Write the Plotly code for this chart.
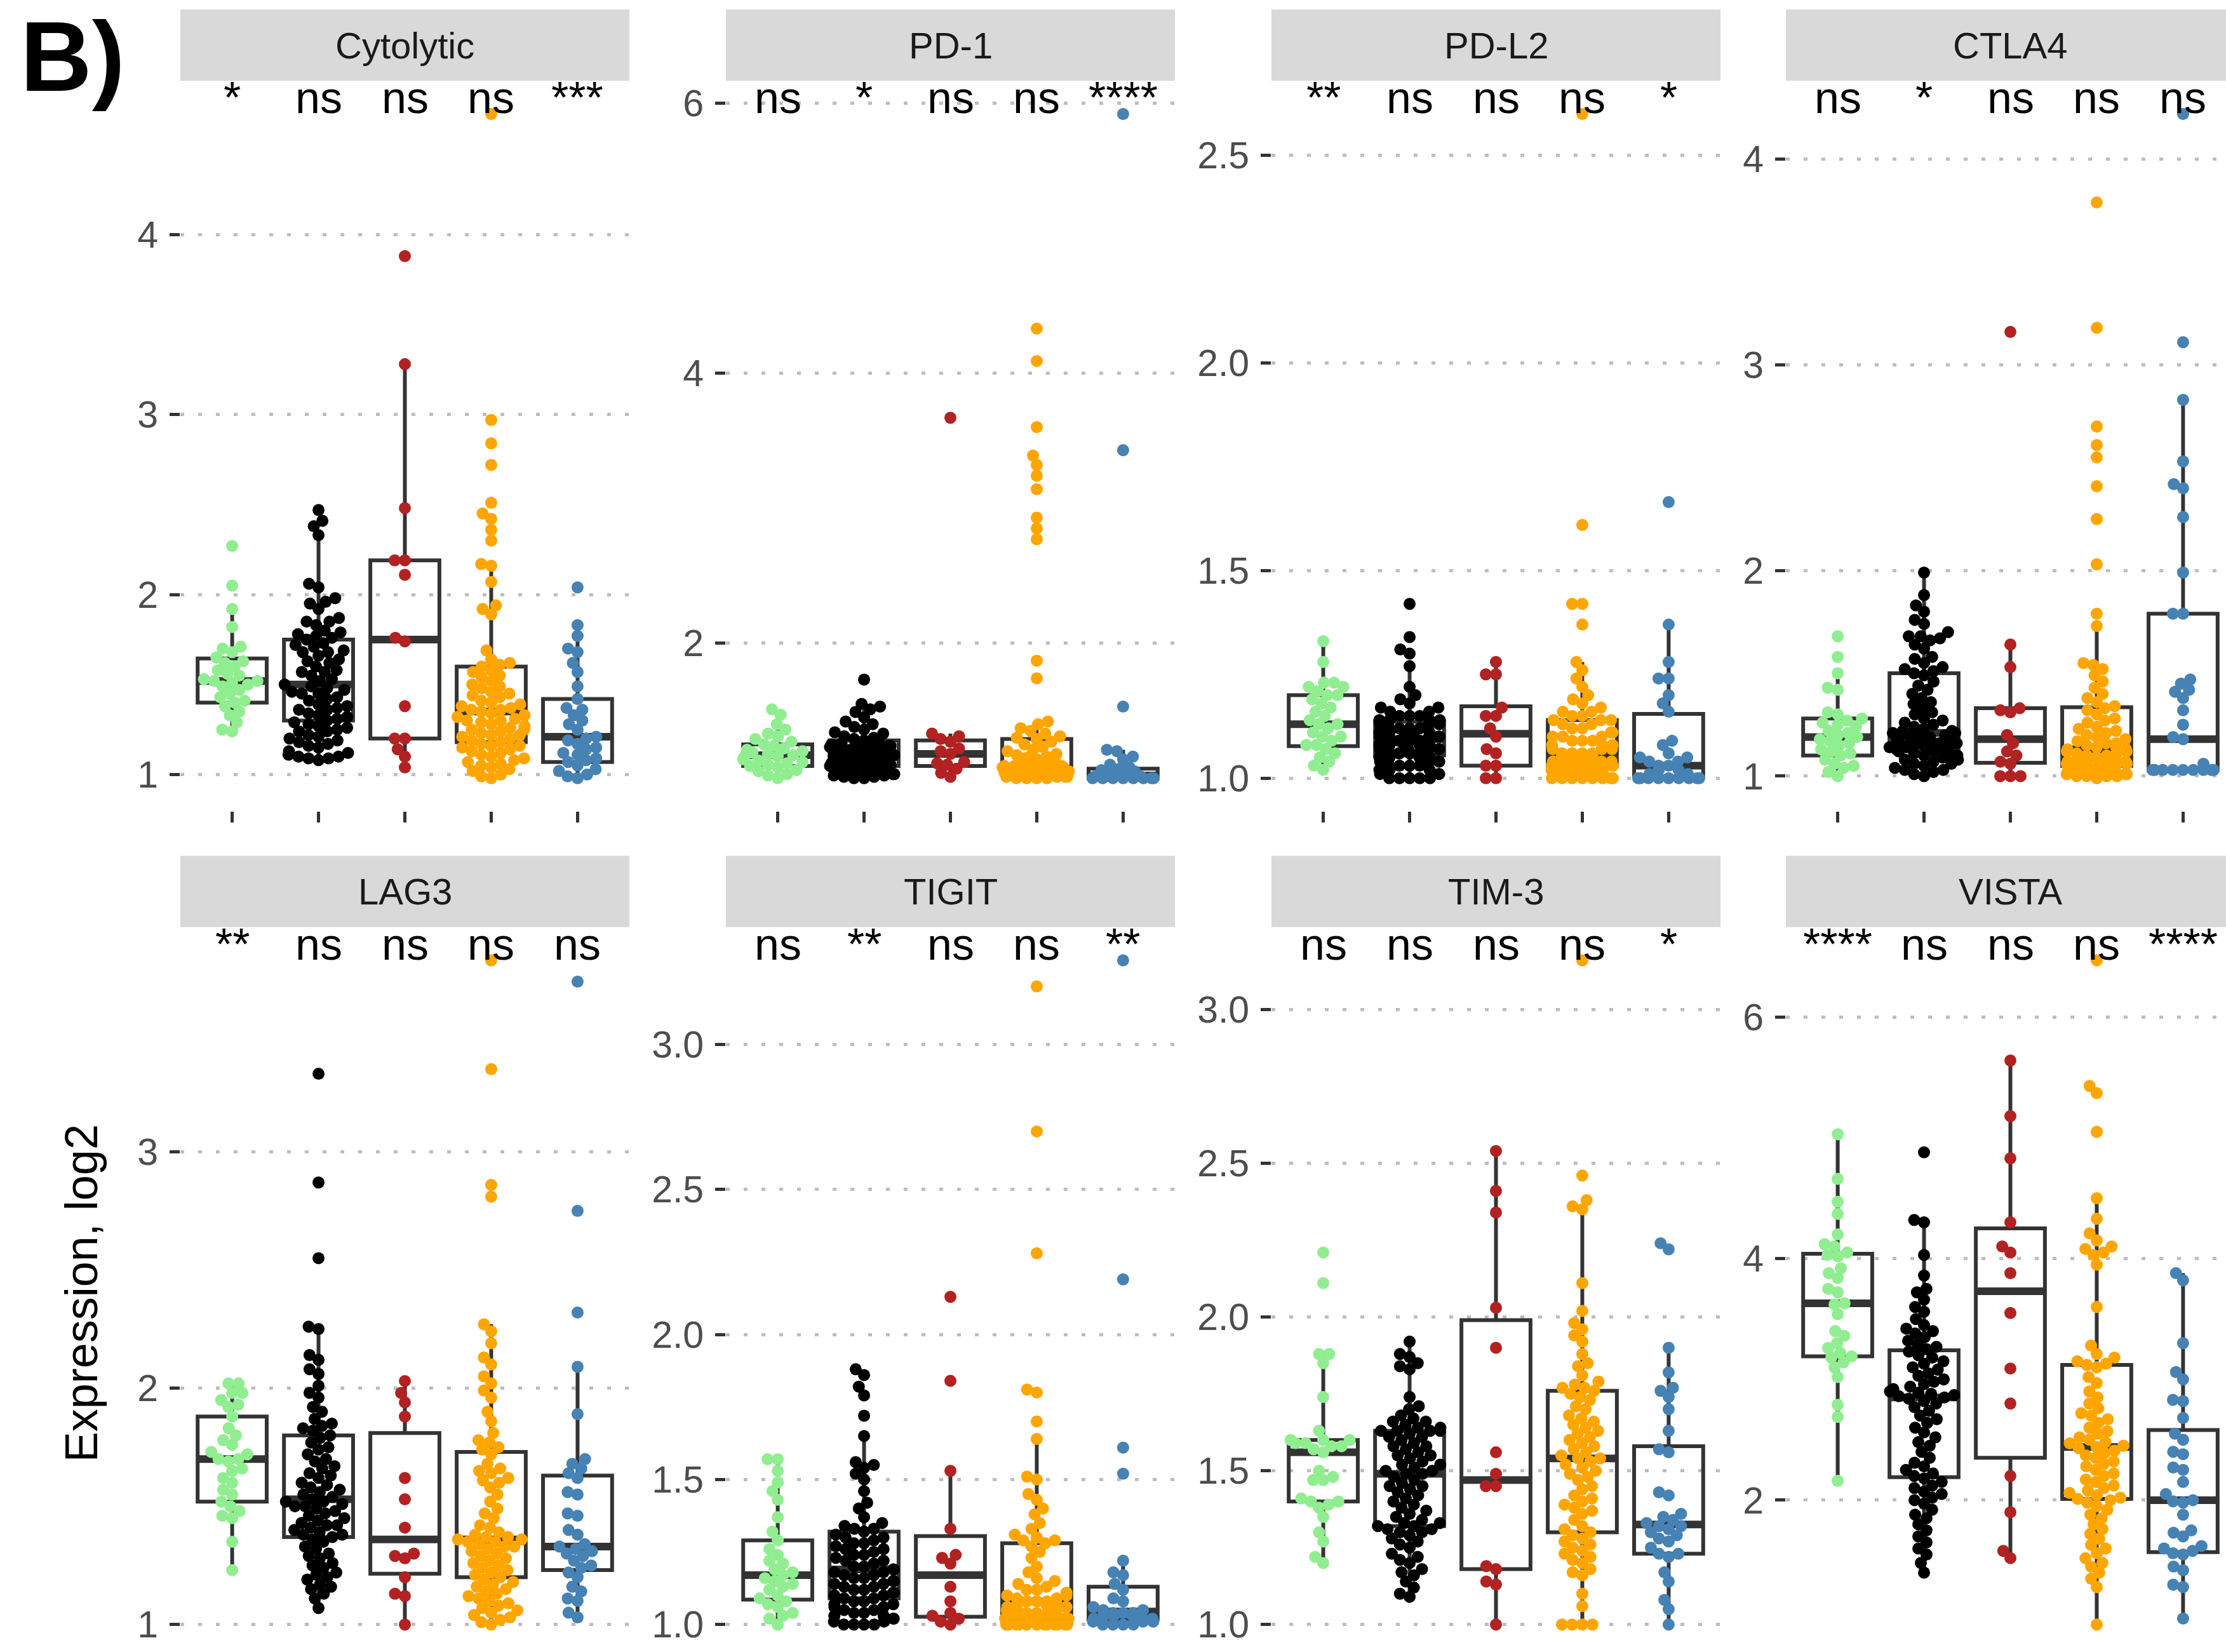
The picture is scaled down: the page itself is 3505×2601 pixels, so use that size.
import math
import numpy as np
import plotly.graph_objects as go

# ---------------- categories / labels ----------------
PANELS = ["Cytolytic", "PD-1", "PD-L2", "CTLA4", "LAG3", "TIGIT", "TIM-3", "VISTA"]
GROUP_POS = [1, 2, 3, 4, 5]
GROUP_COLORS = ["#90EE90", "#000000", "#B22222", "#FFA500", "#4682B4"]

SIG_CYT = ["*", "ns", "ns", "ns", "***"]
SIG_PD1 = ["ns", "*", "ns", "ns", "****"]
SIG_PDL2 = ["**", "ns", "ns", "ns", "*"]
SIG_CTLA4 = ["ns", "*", "ns", "ns", "ns"]
SIG_LAG3 = ["**", "ns", "ns", "ns", "ns"]
SIG_TIGIT = ["ns", "**", "ns", "ns", "**"]
SIG_TIM3 = ["ns", "ns", "ns", "ns", "*"]
SIG_VISTA = ["****", "ns", "ns", "ns", "****"]

YT_CYT = [1, 2, 3, 4]; YL_CYT = ["1", "2", "3", "4"]
YT_PD1 = [2, 4, 6]; YL_PD1 = ["2", "4", "6"]
YT_PDL2 = [1.0, 1.5, 2.0, 2.5]; YL_PDL2 = ["1.0", "1.5", "2.0", "2.5"]
YT_CTLA4 = [1, 2, 3, 4]; YL_CTLA4 = ["1", "2", "3", "4"]
YT_LAG3 = [1, 2, 3]; YL_LAG3 = ["1", "2", "3"]
YT_TIGIT = [1.0, 1.5, 2.0, 2.5, 3.0]; YL_TIGIT = ["1.0", "1.5", "2.0", "2.5", "3.0"]
YT_TIM3 = [1.0, 1.5, 2.0, 2.5, 3.0]; YL_TIM3 = ["1.0", "1.5", "2.0", "2.5", "3.0"]
YT_VISTA = [2, 4, 6]; YL_VISTA = ["2", "4", "6"]

# ---------------- point values ----------------
CYT_G = [2.27, 2.05, 1.92, 1.82, 1.71, 1.70, 1.68, 1.65, 1.63, 1.62, 1.60, 1.58, 1.56, 1.55, 1.53, 1.52,
         1.52, 1.51, 1.50, 1.49, 1.47, 1.45, 1.43, 1.41, 1.40, 1.38, 1.35, 1.33, 1.29, 1.25, 1.24]
CYT_K = [2.47, 2.41, 2.38, 2.33, 2.06, 2.04, 1.98, 1.96, 1.95, 1.92, 1.87, 1.85, 1.85, 1.83, 1.80, 1.79,
         1.78, 1.77, 1.76, 1.75, 1.73, 1.72, 1.71, 1.69, 1.68, 1.68, 1.66, 1.64, 1.63, 1.62, 1.60, 1.58,
         1.57, 1.57, 1.55, 1.53, 1.52, 1.50, 1.49, 1.48, 1.47, 1.46, 1.45, 1.45, 1.43, 1.42, 1.41, 1.39,
         1.38, 1.37, 1.36, 1.36, 1.34, 1.33, 1.32, 1.31, 1.30, 1.29, 1.28, 1.27, 1.26, 1.25, 1.24, 1.24,
         1.22, 1.21, 1.20, 1.19, 1.18, 1.17, 1.16, 1.15, 1.13, 1.12, 1.11, 1.10, 1.10, 1.09, 1.09, 1.08]
CYT_R = [3.88, 3.28, 2.48, 2.19, 2.19, 2.11, 1.76, 1.74, 1.38, 1.20, 1.20, 1.14, 1.10, 1.04]
CYT_O = [4.67, 2.97, 2.84, 2.72, 2.51, 2.45, 2.42, 2.36, 2.30, 2.17, 2.16, 2.07, 1.94, 1.92, 1.89, 1.69,
         1.64, 1.62, 1.61, 1.60, 1.58, 1.57, 1.55, 1.54, 1.52, 1.50, 1.49, 1.48, 1.46, 1.45, 1.44, 1.43,
         1.41, 1.40, 1.39, 1.38, 1.37, 1.36, 1.36, 1.35, 1.34, 1.33, 1.32, 1.31, 1.30, 1.30, 1.29, 1.28,
         1.27, 1.26, 1.25, 1.25, 1.24, 1.23, 1.22, 1.22, 1.21, 1.20, 1.19, 1.18, 1.17, 1.16, 1.16, 1.15,
         1.14, 1.13, 1.12, 1.11, 1.10, 1.09, 1.08, 1.07, 1.06, 1.05, 1.04, 1.03, 1.02, 1.00, 0.99, 0.98]
CYT_B = [2.04, 1.83, 1.77, 1.70, 1.68, 1.62, 1.57, 1.49, 1.42, 1.37, 1.36, 1.33, 1.30, 1.28, 1.25, 1.21,
         1.20, 1.19, 1.17, 1.15, 1.14, 1.12, 1.11, 1.09, 1.08, 1.07, 1.05, 1.03, 1.02, 1.00, 0.99, 0.98]

PD1_G = [1.51, 1.47, 1.40, 1.36, 1.33, 1.31, 1.29, 1.27, 1.25, 1.24, 1.22, 1.21, 1.20, 1.19, 1.18, 1.17,
         1.16, 1.15, 1.14, 1.13, 1.12, 1.11, 1.10, 1.09, 1.08, 1.06, 1.05, 1.03, 1.02, 1.00]
PD1_K = [1.73, 1.55, 1.53, 1.51, 1.49, 1.45, 1.42, 1.40, 1.38, 1.36, 1.34, 1.33, 1.31, 1.30, 1.29, 1.28,
         1.27, 1.26, 1.26, 1.25, 1.25, 1.24, 1.24, 1.23, 1.23, 1.22, 1.22, 1.22, 1.21, 1.21, 1.20, 1.20,
         1.20, 1.19, 1.19, 1.19, 1.18, 1.18, 1.18, 1.18, 1.17, 1.17, 1.16, 1.16, 1.15, 1.15, 1.15, 1.14,
         1.14, 1.13, 1.13, 1.12, 1.12, 1.12, 1.11, 1.11, 1.10, 1.10, 1.10, 1.09, 1.09, 1.08, 1.08, 1.08,
         1.07, 1.07, 1.06, 1.06, 1.05, 1.05, 1.04, 1.04, 1.03, 1.03, 1.02, 1.02, 1.01, 1.01, 1.00, 1.00]
PD1_R = [3.67, 1.33, 1.31, 1.29, 1.27, 1.22, 1.20, 1.18, 1.12, 1.11, 1.10, 1.07, 1.04, 1.01]
PD1_O = [4.33, 4.09, 3.60, 3.39, 3.32, 3.24, 3.14, 2.93, 2.85, 2.77, 1.87, 1.74, 1.42, 1.40, 1.37, 1.35,
         1.33, 1.31, 1.30, 1.29, 1.27, 1.25, 1.23, 1.21, 1.20, 1.18, 1.17, 1.16, 1.15, 1.14, 1.13, 1.13,
         1.12, 1.12, 1.11, 1.11, 1.10, 1.10, 1.09, 1.09, 1.09, 1.08, 1.08, 1.08, 1.07, 1.07, 1.07, 1.07,
         1.06, 1.06, 1.06, 1.06, 1.06, 1.05, 1.05, 1.05, 1.05, 1.05, 1.05, 1.05, 1.04, 1.04, 1.04, 1.04,
         1.03, 1.03, 1.03, 1.03, 1.02, 1.02, 1.02, 1.02, 1.01, 1.01, 1.01, 1.01, 1.00, 1.00, 1.00, 1.00]
PD1_B = [5.92, 3.43, 1.53, 1.21, 1.20, 1.16, 1.14, 1.10, 1.08, 1.07, 1.06, 1.05, 1.04, 1.03, 1.03, 1.02,
         1.02, 1.01, 1.01, 1.01, 1.00, 1.00, 1.00, 1.00, 1.00, 1.00, 1.00, 1.00]

PDL2_G = [1.33, 1.28, 1.23, 1.23, 1.22, 1.22, 1.21, 1.20, 1.20, 1.19, 1.18, 1.17, 1.16, 1.15, 1.14, 1.13,
          1.13, 1.12, 1.11, 1.10, 1.10, 1.09, 1.08, 1.08, 1.07, 1.06, 1.05, 1.04, 1.03, 1.02]
PDL2_K = [1.42, 1.34, 1.31, 1.30, 1.27, 1.22, 1.20, 1.19, 1.18, 1.17, 1.17, 1.16, 1.16, 1.15, 1.15, 1.15,
          1.14, 1.14, 1.14, 1.14, 1.13, 1.13, 1.13, 1.12, 1.12, 1.12, 1.12, 1.11, 1.11, 1.11, 1.11, 1.10,
          1.10, 1.10, 1.10, 1.10, 1.09, 1.09, 1.09, 1.09, 1.09, 1.08, 1.08, 1.08, 1.08, 1.08, 1.07, 1.07,
          1.07, 1.07, 1.07, 1.06, 1.06, 1.06, 1.06, 1.06, 1.06, 1.05, 1.05, 1.05, 1.05, 1.04, 1.04, 1.04,
          1.04, 1.03, 1.03, 1.03, 1.03, 1.02, 1.02, 1.02, 1.01, 1.01, 1.01, 1.00, 1.00, 1.00, 1.00, 1.00]
PDL2_R = [1.28, 1.25, 1.25, 1.17, 1.15, 1.15, 1.12, 1.10, 1.07, 1.06, 1.03, 1.03, 1.00, 1.00]
PDL2_O = [2.60, 1.61, 1.42, 1.42, 1.37, 1.28, 1.26, 1.24, 1.22, 1.20, 1.19, 1.18, 1.17, 1.16, 1.16, 1.15,
          1.15, 1.14, 1.14, 1.14, 1.13, 1.13, 1.12, 1.12, 1.11, 1.11, 1.10, 1.10, 1.10, 1.09, 1.09, 1.09,
          1.08, 1.08, 1.08, 1.07, 1.07, 1.07, 1.06, 1.06, 1.06, 1.06, 1.05, 1.05, 1.05, 1.05, 1.05, 1.04,
          1.04, 1.04, 1.04, 1.04, 1.04, 1.03, 1.03, 1.03, 1.03, 1.03, 1.03, 1.03, 1.02, 1.02, 1.02, 1.02,
          1.02, 1.02, 1.01, 1.01, 1.01, 1.01, 1.01, 1.01, 1.00, 1.00, 1.00, 1.00, 1.00, 1.00, 1.00, 1.00]
PDL2_B = [1.665, 1.37, 1.28, 1.24, 1.24, 1.20, 1.18, 1.16, 1.09, 1.08, 1.06, 1.05, 1.05, 1.04, 1.04, 1.03,
          1.03, 1.02, 1.02, 1.01, 1.01, 1.00, 1.00, 1.00, 1.00, 1.00, 1.00, 1.00, 1.00, 1.00]

CTLA4_G = [1.68, 1.58, 1.50, 1.43, 1.42, 1.31, 1.30, 1.28, 1.27, 1.26, 1.25, 1.24, 1.22, 1.21, 1.20, 1.19,
           1.18, 1.17, 1.16, 1.15, 1.13, 1.12, 1.11, 1.10, 1.08, 1.06, 1.05, 1.04, 1.02, 1.00]
CTLA4_K = [1.99, 1.88, 1.83, 1.80, 1.76, 1.74, 1.70, 1.68, 1.68, 1.67, 1.66, 1.64, 1.62, 1.58, 1.57, 1.55,
           1.53, 1.52, 1.51, 1.50, 1.49, 1.46, 1.44, 1.42, 1.40, 1.38, 1.36, 1.35, 1.33, 1.31, 1.30, 1.28,
           1.27, 1.26, 1.25, 1.24, 1.23, 1.22, 1.22, 1.21, 1.21, 1.20, 1.20, 1.19, 1.19, 1.18, 1.18, 1.18,
           1.17, 1.17, 1.16, 1.16, 1.16, 1.15, 1.15, 1.15, 1.14, 1.14, 1.14, 1.13, 1.13, 1.12, 1.12, 1.11,
           1.11, 1.10, 1.10, 1.09, 1.08, 1.08, 1.07, 1.06, 1.06, 1.05, 1.04, 1.03, 1.03, 1.02, 1.01, 1.00]
CTLA4_R = [3.16, 1.64, 1.53, 1.33, 1.32, 1.31, 1.20, 1.16, 1.12, 1.10, 1.07, 1.06, 1.00, 1.00, 1.00]
CTLA4_O = [3.79, 3.18, 2.70, 2.61, 2.55, 2.41, 2.25, 2.03, 1.79, 1.73, 1.55, 1.54, 1.52, 1.49, 1.46, 1.43,
           1.40, 1.38, 1.36, 1.34, 1.33, 1.32, 1.30, 1.28, 1.27, 1.26, 1.24, 1.23, 1.22, 1.21, 1.20, 1.19,
           1.18, 1.17, 1.16, 1.16, 1.15, 1.14, 1.14, 1.13, 1.13, 1.12, 1.12, 1.11, 1.11, 1.10, 1.10, 1.09,
           1.09, 1.08, 1.08, 1.08, 1.07, 1.07, 1.07, 1.06, 1.06, 1.06, 1.05, 1.05, 1.05, 1.04, 1.04, 1.04,
           1.04, 1.03, 1.03, 1.03, 1.02, 1.02, 1.02, 1.02, 1.01, 1.01, 1.01, 1.00, 1.00, 1.00, 1.00, 0.99]
CTLA4_B = [4.22, 3.11, 2.83, 2.53, 2.42, 2.40, 2.26, 1.99, 1.79, 1.79, 1.47, 1.45, 1.42, 1.41, 1.38, 1.32,
           1.25, 1.19, 1.18, 1.06, 1.03, 1.03, 1.03, 1.03, 1.03, 1.03, 1.03, 1.03, 1.03]

LAG3_G = [2.02, 2.02, 1.98, 1.98, 1.95, 1.93, 1.92, 1.88, 1.83, 1.80, 1.78, 1.76, 1.73, 1.72, 1.70, 1.70,
          1.69, 1.66, 1.65, 1.62, 1.60, 1.57, 1.55, 1.52, 1.50, 1.48, 1.46, 1.45, 1.35, 1.23]
LAG3_K = [3.33, 2.87, 2.55, 2.26, 2.25, 2.14, 2.12, 2.08, 2.06, 2.01, 1.98, 1.96, 1.92, 1.90, 1.87, 1.85,
          1.84, 1.83, 1.82, 1.80, 1.79, 1.77, 1.75, 1.74, 1.72, 1.70, 1.69, 1.67, 1.66, 1.64, 1.63, 1.62,
          1.60, 1.59, 1.58, 1.57, 1.56, 1.55, 1.54, 1.53, 1.52, 1.52, 1.51, 1.50, 1.50, 1.49, 1.48, 1.47,
          1.46, 1.45, 1.44, 1.43, 1.42, 1.42, 1.41, 1.40, 1.39, 1.38, 1.38, 1.37, 1.36, 1.35, 1.33, 1.32,
          1.30, 1.29, 1.28, 1.26, 1.25, 1.24, 1.22, 1.21, 1.20, 1.19, 1.17, 1.16, 1.15, 1.13, 1.11, 1.07]
LAG3_R = [2.03, 1.98, 1.94, 1.88, 1.62, 1.53, 1.41, 1.30, 1.29, 1.28, 1.20, 1.13, 1.12, 1.00]
LAG3_O = [3.81, 3.35, 2.86, 2.81, 2.27, 2.24, 2.19, 2.13, 2.10, 2.05, 2.02, 1.99, 1.96, 1.90, 1.86, 1.81,
          1.78, 1.77, 1.75, 1.74, 1.72, 1.68, 1.66, 1.65, 1.64, 1.62, 1.61, 1.60, 1.58, 1.55, 1.52, 1.49,
          1.47, 1.45, 1.42, 1.41, 1.39, 1.38, 1.37, 1.37, 1.36, 1.36, 1.35, 1.35, 1.34, 1.33, 1.33, 1.32,
          1.31, 1.30, 1.29, 1.28, 1.27, 1.26, 1.25, 1.24, 1.23, 1.22, 1.21, 1.20, 1.19, 1.18, 1.17, 1.16,
          1.15, 1.14, 1.13, 1.12, 1.11, 1.10, 1.09, 1.08, 1.07, 1.06, 1.05, 1.04, 1.03, 1.02, 1.01, 1.00]
LAG3_B = [3.72, 2.75, 2.32, 2.09, 1.89, 1.70, 1.68, 1.66, 1.64, 1.62, 1.56, 1.55, 1.47, 1.46, 1.40, 1.38,
          1.34, 1.33, 1.32, 1.31, 1.30, 1.29, 1.27, 1.25, 1.24, 1.22, 1.20, 1.16, 1.14, 1.11, 1.10, 1.05, 1.03]

TIGIT_G = [1.57, 1.57, 1.53, 1.49, 1.46, 1.43, 1.37, 1.32, 1.29, 1.26, 1.24, 1.22, 1.21, 1.19, 1.18, 1.17,
           1.16, 1.15, 1.14, 1.13, 1.12, 1.10, 1.09, 1.08, 1.07, 1.06, 1.04, 1.03, 1.02, 1.00]
TIGIT_K = [1.88, 1.86, 1.82, 1.79, 1.72, 1.65, 1.56, 1.55, 1.54, 1.52, 1.50, 1.46, 1.42, 1.40, 1.37, 1.35,
           1.34, 1.33, 1.33, 1.32, 1.31, 1.30, 1.30, 1.29, 1.28, 1.28, 1.27, 1.26, 1.26, 1.25, 1.24, 1.24,
           1.23, 1.22, 1.22, 1.21, 1.20, 1.20, 1.19, 1.19, 1.18, 1.18, 1.17, 1.17, 1.16, 1.16, 1.15, 1.15,
           1.14, 1.14, 1.13, 1.13, 1.12, 1.12, 1.11, 1.11, 1.10, 1.10, 1.09, 1.09, 1.08, 1.08, 1.07, 1.07,
           1.06, 1.06, 1.05, 1.05, 1.04, 1.04, 1.03, 1.03, 1.02, 1.02, 1.01, 1.01, 1.00, 1.00, 1.00, 1.00]
TIGIT_R = [2.13, 1.84, 1.53, 1.33, 1.24, 1.23, 1.21, 1.13, 1.08, 1.04, 1.03, 1.02, 1.01, 1.00]
TIGIT_O = [3.20, 2.70, 2.28, 1.81, 1.80, 1.70, 1.64, 1.51, 1.50, 1.45, 1.43, 1.40, 1.38, 1.35, 1.33, 1.31,
           1.30, 1.29, 1.29, 1.28, 1.27, 1.25, 1.23, 1.20, 1.18, 1.16, 1.15, 1.14, 1.13, 1.12, 1.12, 1.11,
           1.10, 1.10, 1.09, 1.09, 1.08, 1.08, 1.08, 1.08, 1.07, 1.07, 1.07, 1.06, 1.06, 1.06, 1.05, 1.05,
           1.05, 1.04, 1.04, 1.04, 1.03, 1.03, 1.03, 1.03, 1.02, 1.02, 1.02, 1.02, 1.01, 1.01, 1.01, 1.01,
           1.01, 1.01, 1.00, 1.00, 1.00, 1.00, 1.00, 1.00, 1.00, 1.00, 1.00, 1.00, 1.00, 1.00]
TIGIT_B = [3.29, 2.19, 1.61, 1.52, 1.22, 1.18, 1.17, 1.14, 1.12, 1.09, 1.08, 1.06, 1.05, 1.05, 1.04, 1.04,
           1.04, 1.03, 1.03, 1.03, 1.02, 1.02, 1.02, 1.01, 1.01, 1.01, 1.00, 1.00, 1.00, 1.00]

TIM3_G = [2.21, 2.11, 1.88, 1.88, 1.85, 1.74, 1.63, 1.60, 1.60, 1.60, 1.59, 1.59, 1.58, 1.58, 1.57, 1.56,
          1.50, 1.48, 1.47, 1.47, 1.41, 1.40, 1.40, 1.39, 1.38, 1.35, 1.30, 1.27, 1.22, 1.20]
TIM3_K = [1.92, 1.88, 1.87, 1.85, 1.84, 1.83, 1.74, 1.71, 1.70, 1.68, 1.67, 1.66, 1.66, 1.65, 1.64, 1.64,
          1.63, 1.63, 1.63, 1.63, 1.62, 1.61, 1.61, 1.60, 1.59, 1.58, 1.58, 1.57, 1.56, 1.55, 1.55, 1.54,
          1.53, 1.52, 1.52, 1.51, 1.50, 1.50, 1.49, 1.49, 1.48, 1.47, 1.46, 1.45, 1.45, 1.44, 1.43, 1.42,
          1.41, 1.40, 1.39, 1.38, 1.37, 1.36, 1.35, 1.34, 1.33, 1.33, 1.32, 1.32, 1.31, 1.31, 1.30, 1.30,
          1.29, 1.28, 1.27, 1.26, 1.25, 1.23, 1.22, 1.21, 1.20, 1.18, 1.17, 1.16, 1.14, 1.12, 1.10, 1.09]
TIM3_R = [2.54, 2.41, 2.34, 2.03, 1.90, 1.56, 1.49, 1.45, 1.45, 1.19, 1.18, 1.14, 1.13, 1.00]
TIM3_O = [3.16, 2.46, 2.38, 2.36, 2.35, 2.11, 2.02, 1.98, 1.96, 1.94, 1.92, 1.88, 1.85, 1.84, 1.81, 1.79,
          1.78, 1.77, 1.77, 1.76, 1.75, 1.74, 1.73, 1.71, 1.70, 1.68, 1.67, 1.66, 1.65, 1.64, 1.63, 1.62,
          1.61, 1.60, 1.59, 1.58, 1.57, 1.56, 1.55, 1.54, 1.54, 1.53, 1.52, 1.51, 1.50, 1.49, 1.48, 1.47,
          1.45, 1.44, 1.42, 1.41, 1.40, 1.39, 1.38, 1.37, 1.36, 1.34, 1.32, 1.31, 1.30, 1.29, 1.28, 1.27,
          1.26, 1.25, 1.24, 1.23, 1.22, 1.21, 1.20, 1.18, 1.17, 1.16, 1.10, 1.06, 1.00, 1.00, 1.00, 1.00]
TIM3_B = [2.24, 2.22, 1.90, 1.82, 1.77, 1.76, 1.74, 1.70, 1.63, 1.57, 1.56, 1.43, 1.42, 1.36, 1.35, 1.34,
          1.33, 1.32, 1.32, 1.31, 1.30, 1.29, 1.28, 1.27, 1.25, 1.23, 1.23, 1.22, 1.17, 1.14, 1.08, 1.05, 1.00]

VISTA_G = [5.03, 4.66, 4.47, 4.37, 4.20, 4.12, 4.10, 4.05, 4.03, 4.02, 3.92, 3.88, 3.84, 3.75, 3.72, 3.63,
           3.62, 3.54, 3.40, 3.36, 3.30, 3.26, 3.22, 3.19, 3.18, 3.14, 3.10, 3.02, 2.79, 2.69, 2.16]
VISTA_K = [4.88, 4.32, 4.30, 4.03, 3.86, 3.75, 3.72, 3.66, 3.60, 3.56, 3.50, 3.45, 3.42, 3.40, 3.38, 3.35,
           3.32, 3.29, 3.27, 3.25, 3.23, 3.20, 3.18, 3.15, 3.13, 3.10, 3.08, 3.05, 3.03, 3.00, 2.98, 2.96,
           2.94, 2.92, 2.90, 2.89, 2.88, 2.87, 2.86, 2.85, 2.84, 2.82, 2.80, 2.77, 2.74, 2.70, 2.67, 2.64,
           2.60, 2.56, 2.52, 2.48, 2.45, 2.40, 2.35, 2.31, 2.28, 2.25, 2.22, 2.20, 2.18, 2.15, 2.12, 2.10,
           2.07, 2.05, 2.02, 2.00, 1.97, 1.92, 1.88, 1.85, 1.80, 1.75, 1.70, 1.65, 1.60, 1.55, 1.48, 1.40]
VISTA_R = [5.64, 5.18, 4.83, 4.30, 4.10, 4.05, 3.88, 3.55, 3.09, 2.80, 2.20, 1.90, 1.58, 1.52]
VISTA_O = [6.47, 5.43, 5.37, 5.05, 4.50, 4.33, 4.21, 4.15, 4.10, 4.08, 4.05, 4.03, 3.95, 3.60, 3.28, 3.21,
           3.18, 3.15, 3.13, 3.12, 3.10, 3.02, 2.97, 2.90, 2.85, 2.80, 2.76, 2.72, 2.70, 2.67, 2.64, 2.60,
           2.57, 2.55, 2.52, 2.50, 2.48, 2.47, 2.45, 2.44, 2.43, 2.41, 2.39, 2.37, 2.35, 2.32, 2.30, 2.28,
           2.25, 2.22, 2.20, 2.17, 2.15, 2.12, 2.10, 2.08, 2.06, 2.04, 2.02, 2.01, 2.00, 1.98, 1.95, 1.92,
           1.88, 1.85, 1.80, 1.76, 1.72, 1.68, 1.63, 1.60, 1.56, 1.52, 1.48, 1.45, 1.40, 1.35, 1.28, 0.97]
VISTA_B = [3.88, 3.82, 3.30, 3.06, 3.00, 2.83, 2.82, 2.68, 2.55, 2.50, 2.40, 2.38, 2.27, 2.25, 2.15, 2.05,
           2.00, 1.99, 1.98, 1.88, 1.75, 1.73, 1.70, 1.62, 1.60, 1.58, 1.56, 1.55, 1.45, 1.42, 1.30, 1.28, 1.02]

# ---------------- box statistics ----------------
CYT_Q1 = [1.40, 1.30, 1.20, 1.18, 1.07]; CYT_MED = [1.52, 1.50, 1.75, 1.35, 1.21]
CYT_Q3 = [1.645, 1.75, 2.19, 1.60, 1.42]; CYT_LO = [1.24, 1.08, 1.04, 0.98, 0.98]; CYT_HI = [1.90, 2.33, 3.28, 2.17, 1.83]
PD1_Q1 = [1.09, 1.09, 1.09, 1.03, 1.00]; PD1_MED = [1.17, 1.17, 1.18, 1.07, 1.02]
PD1_Q3 = [1.25, 1.28, 1.28, 1.29, 1.07]; PD1_LO = [1.00, 1.00, 1.01, 1.00, 1.00]; PD1_HI = [1.47, 1.55, 1.33, 1.42, 1.21]
PDL2_Q1 = [1.077, 1.055, 1.03, 1.03, 1.004]; PDL2_MED = [1.13, 1.094, 1.107, 1.055, 1.03]
PDL2_Q3 = [1.20, 1.136, 1.173, 1.14, 1.155]; PDL2_LO = [1.02, 1.00, 1.00, 1.00, 1.00]; PDL2_HI = [1.33, 1.27, 1.28, 1.28, 1.37]
CTLA4_Q1 = [1.10, 1.13, 1.065, 1.05, 1.03]; CTLA4_MED = [1.19, 1.21, 1.18, 1.13, 1.18]
CTLA4_Q3 = [1.28, 1.50, 1.33, 1.335, 1.79]; CTLA4_LO = [1.00, 1.00, 1.00, 0.99, 1.03]; CTLA4_HI = [1.50, 1.99, 1.64, 1.73, 2.83]
LAG3_Q1 = [1.52, 1.37, 1.215, 1.20, 1.23]; LAG3_MED = [1.70, 1.53, 1.36, 1.36, 1.33]
LAG3_Q3 = [1.88, 1.80, 1.81, 1.73, 1.63]; LAG3_LO = [1.23, 1.07, 1.00, 1.00, 1.03]; LAG3_HI = [2.02, 2.26, 2.03, 2.27, 2.09]
TIGIT_Q1 = [1.086, 1.09, 1.027, 1.01, 1.018]; TIGIT_MED = [1.17, 1.19, 1.17, 1.08, 1.045]
TIGIT_Q3 = [1.29, 1.32, 1.305, 1.28, 1.13]; TIGIT_LO = [1.00, 1.00, 1.00, 1.00, 1.00]; TIGIT_HI = [1.57, 1.65, 1.53, 1.64, 1.22]
TIM3_Q1 = [1.40, 1.32, 1.18, 1.30, 1.23]; TIM3_MED = [1.56, 1.49, 1.47, 1.54, 1.325]
TIM3_Q3 = [1.60, 1.63, 1.99, 1.76, 1.58]; TIM3_LO = [1.20, 1.09, 1.00, 1.00, 1.00]; TIM3_HI = [1.88, 1.92, 2.54, 2.36, 1.90]
VISTA_Q1 = [3.19, 2.19, 2.35, 2.01, 1.57]; VISTA_MED = [3.63, 2.85, 3.73, 2.44, 2.00]
VISTA_Q3 = [4.04, 3.24, 4.25, 3.12, 2.58]; VISTA_LO = [2.16, 1.40, 1.52, 0.97, 1.02]; VISTA_HI = [5.03, 4.32, 5.64, 4.50, 3.88]

# ---------------- assemble ----------------
POINTS = [
    [CYT_G, CYT_K, CYT_R, CYT_O, CYT_B],
    [PD1_G, PD1_K, PD1_R, PD1_O, PD1_B],
    [PDL2_G, PDL2_K, PDL2_R, PDL2_O, PDL2_B],
    [CTLA4_G, CTLA4_K, CTLA4_R, CTLA4_O, CTLA4_B],
    [LAG3_G, LAG3_K, LAG3_R, LAG3_O, LAG3_B],
    [TIGIT_G, TIGIT_K, TIGIT_R, TIGIT_O, TIGIT_B],
    [TIM3_G, TIM3_K, TIM3_R, TIM3_O, TIM3_B],
    [VISTA_G, VISTA_K, VISTA_R, VISTA_O, VISTA_B],
]
BOXES = [
    (CYT_Q1, CYT_MED, CYT_Q3, CYT_LO, CYT_HI),
    (PD1_Q1, PD1_MED, PD1_Q3, PD1_LO, PD1_HI),
    (PDL2_Q1, PDL2_MED, PDL2_Q3, PDL2_LO, PDL2_HI),
    (CTLA4_Q1, CTLA4_MED, CTLA4_Q3, CTLA4_LO, CTLA4_HI),
    (LAG3_Q1, LAG3_MED, LAG3_Q3, LAG3_LO, LAG3_HI),
    (TIGIT_Q1, TIGIT_MED, TIGIT_Q3, TIGIT_LO, TIGIT_HI),
    (TIM3_Q1, TIM3_MED, TIM3_Q3, TIM3_LO, TIM3_HI),
    (VISTA_Q1, VISTA_MED, VISTA_Q3, VISTA_LO, VISTA_HI),
]
SIGS = [SIG_CYT, SIG_PD1, SIG_PDL2, SIG_CTLA4, SIG_LAG3, SIG_TIGIT, SIG_TIM3, SIG_VISTA]
YTICKS = [(YT_CYT, YL_CYT), (YT_PD1, YL_PD1), (YT_PDL2, YL_PDL2), (YT_CTLA4, YL_CTLA4),
          (YT_LAG3, YL_LAG3), (YT_TIGIT, YL_TIGIT), (YT_TIM3, YL_TIM3), (YT_VISTA, YL_VISTA)]

# ---------------- layout geometry (pixels of the target picture) ----------------
FIG_W, FIG_H = 3505, 2601
RENDER_H = 2621          # page height actually captured (compensates vertical squeeze)
COL_LEFT = [284, 1143, 2002, 2812]
ROW_TOP = [127, 1458]
PANEL_W, PANEL_H = 707, 1149
STRIP_H = 112
FONT = "Liberation Sans, Arial, Helvetica, sans-serif"
DOT = 19
SPACING = 16.0
CORRAL = 0.4


def swarm_offsets(values, ppu_y, spacing):
    """Beeswarm placement (pixel space), ascending priority."""
    vals = np.asarray(values, dtype=float)
    order = np.argsort(vals, kind="stable")
    px_list, py_list = [], []
    offs = np.zeros(len(vals))
    s2 = spacing * spacing
    for idx in order:
        y = vals[idx] * ppu_y
        cands = [0.0]
        for px, py in zip(px_list, py_list):
            dy = abs(py - y)
            if dy < spacing:
                dx = math.sqrt(s2 - dy * dy)
                cands.append(px + dx)
                cands.append(px - dx)
        cands.sort(key=lambda c: (abs(c), c))
        chosen = cands[-1]
        for cnd in cands:
            if all((cnd - px) ** 2 + (y - py) ** 2 >= s2 - 1e-6 for px, py in zip(px_list, py_list)):
                chosen = cnd
                break
        px_list.append(chosen)
        py_list.append(y)
        offs[idx] = chosen
    return offs


fig = go.Figure()
layout = dict(
    width=FIG_W, height=RENDER_H, autosize=False,
    margin=dict(l=0, r=0, t=0, b=0),
    paper_bgcolor="white", plot_bgcolor="white",
    showlegend=False,
    font=dict(family=FONT),
)
annotations = []
shapes = []

for k, name in enumerate(PANELS):
    r, c = divmod(k, 4)
    L = COL_LEFT[c]
    T = ROW_TOP[r]
    R = min(L + PANEL_W, FIG_W)
    B = min(T + PANEL_H, FIG_H)
    allv = [v for g in POINTS[k] for v in g]
    vmin, vmax = min(allv), max(allv)
    pad = 0.05 * (vmax - vmin)
    lo, hi = vmin - pad, vmax + pad
    ppu_y = PANEL_H / (hi - lo)
    ppu_x = PANEL_W / 5.2
    xr = [0.4, 0.4 + 5.2 * (R - L) / PANEL_W]
    yr = [lo + (hi - lo) * (T + PANEL_H - B) / PANEL_H, hi]
    sfx = "" if k == 0 else str(k + 1)
    xa, ya = "x" + sfx, "y" + sfx

    layout["xaxis" + sfx] = dict(
        domain=[L / FIG_W, R / FIG_W], range=xr, anchor=ya,
        tickmode="array", tickvals=GROUP_POS, showticklabels=False,
        ticks="outside", ticklen=17, tickwidth=5, tickcolor="#333333",
        showgrid=False, zeroline=False, showline=False, fixedrange=True,
    )
    tv, tt = YTICKS[k]
    layout["yaxis" + sfx] = dict(
        domain=[1 - B / FIG_H, 1 - T / FIG_H], range=yr, anchor=xa,
        tickmode="array", tickvals=tv, ticktext=tt,
        ticks="outside", ticklen=16, tickwidth=5, tickcolor="#333333",
        tickfont=dict(size=59, color="#4D4D4D", family=FONT),
        ticklabelstandoff=6,
        showgrid=True, gridcolor="#BDBDBD", gridwidth=5, griddash="6px,22px",
        zeroline=False, showline=False, fixedrange=True,
    )

    q1, med, q3, lf, uf = BOXES[k]
    fig.add_trace(go.Box(
        x=GROUP_POS, q1=q1, median=med, q3=q3, lowerfence=lf, upperfence=uf,
        xaxis=xa, yaxis=ya, width=0.8, whiskerwidth=0, boxpoints=False,
        line=dict(color="#333333", width=6), fillcolor="rgba(255,255,255,0)",
        hoverinfo="skip",
    ))
    mx, my = [], []
    for i, m in zip(GROUP_POS, med):
        mx += [i - 0.4, i + 0.4, None]
        my += [m, m, None]
    fig.add_trace(go.Scatter(x=mx, y=my, mode="lines", xaxis=xa, yaxis=ya,
                             line=dict(color="#333333", width=12), hoverinfo="skip"))

    for gi, (vals, col) in enumerate(zip(POINTS[k], GROUP_COLORS)):
        offs = swarm_offsets(vals, ppu_y, SPACING)
        w = 2 * CORRAL * ppu_x
        offs = ((offs + w / 2) % w) - w / 2
        xs = [GROUP_POS[gi] + o / ppu_x for o in offs]
        fig.add_trace(go.Scatter(
            x=xs, y=vals, mode="markers", xaxis=xa, yaxis=ya,
            marker=dict(size=DOT, color=col, line=dict(width=0)),
            hoverinfo="skip",
        ))

    # strip
    shapes.append(dict(type="rect", xref="paper", yref="paper",
                       x0=L / FIG_W, x1=R / FIG_W,
                       y0=1 - T / FIG_H, y1=1 - (T - STRIP_H) / FIG_H,
                       fillcolor="#D9D9D9", line=dict(width=0), layer="below"))
    annotations.append(dict(xref="paper", yref="paper",
                            x=(L + PANEL_W / 2) / FIG_W, y=1 - (T - STRIP_H / 2) / FIG_H,
                            text=name, showarrow=False, xanchor="center", yanchor="middle",
                            font=dict(size=58, color="#1A1A1A", family=FONT)))
    # significance labels
    for i, s in zip(GROUP_POS, SIGS[k]):
        annotations.append(dict(xref=xa, yref=ya, x=i, y=vmax, text=s, showarrow=False,
                                xanchor="center", yanchor="bottom", yshift=-16,
                                font=dict(size=70, color="black", family=FONT)))

annotations.append(dict(xref="paper", yref="paper", x=128 / FIG_W, y=1 - 2034 / FIG_H,
                        text="Expression, log2", textangle=-90, showarrow=False,
                        xanchor="center", yanchor="middle",
                        font=dict(size=72, color="black", family=FONT)))
annotations.append(dict(xref="paper", yref="paper", x=30 / FIG_W, y=1.0,
                        text="<b>B)</b>", showarrow=False, xanchor="left", yanchor="top",
                        font=dict(size=156, color="black", family=FONT)))

layout["annotations"] = annotations
layout["shapes"] = shapes
fig.update_layout(**layout)
fig.write_html("out.html",
               config={"displayModeBar": False, "responsive": False},
               post_script="document.body.style.margin='0px';document.body.style.overflow='hidden';")
